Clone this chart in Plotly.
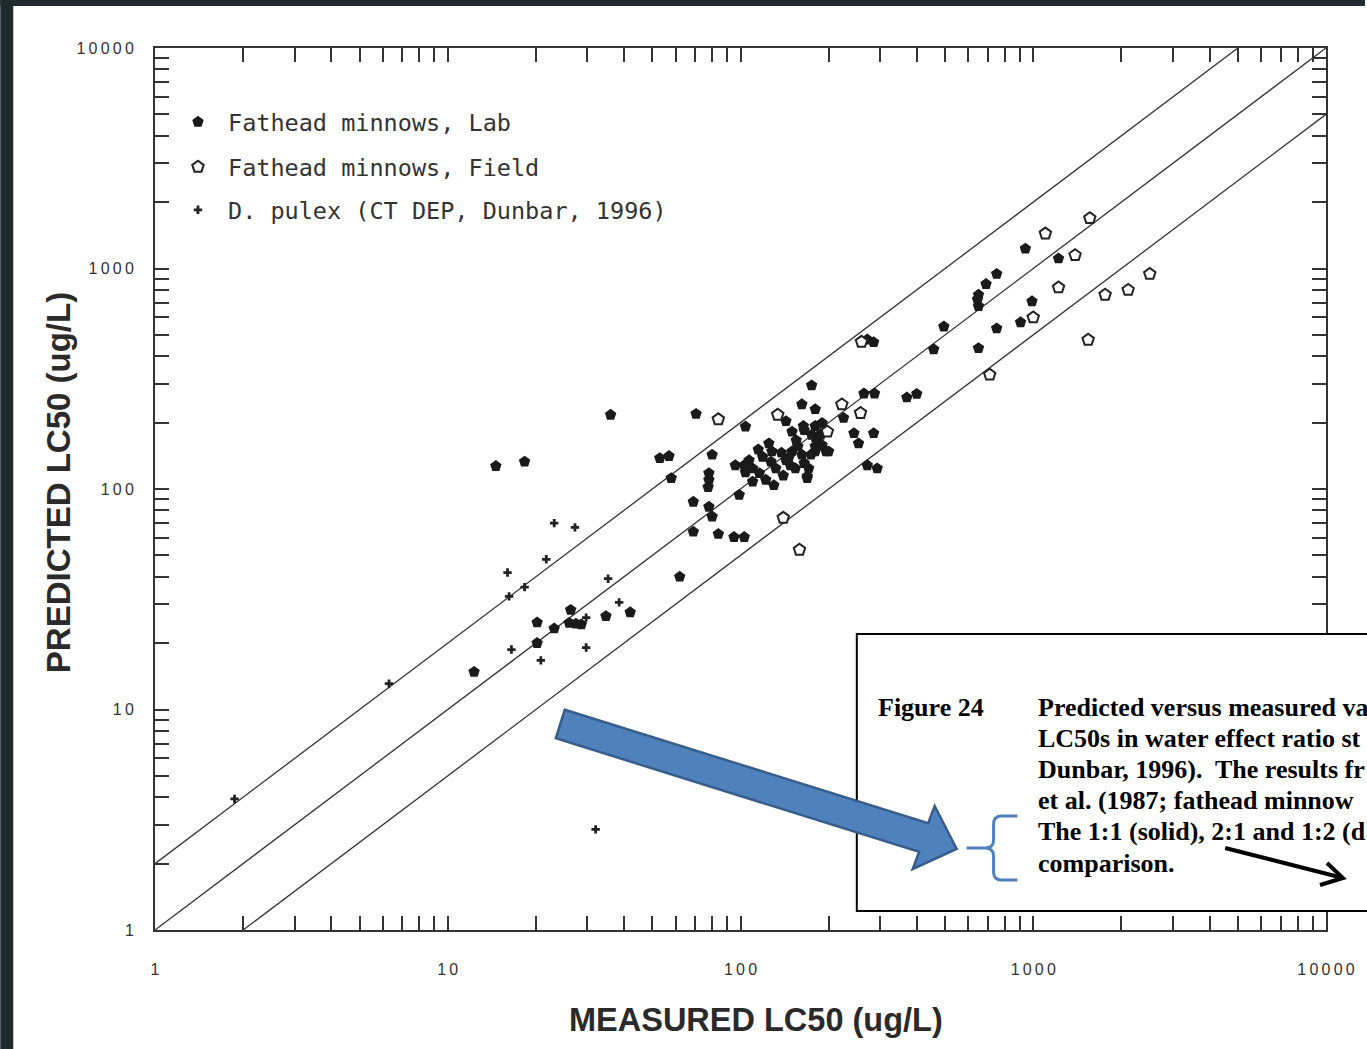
import plotly.graph_objects as go

# ---------------- data ----------------
lab_x = [14.6, 18.3, 36, 70.5, 104, 143, 150, 175, 162, 180, 264, 287, 165, 180, 190, 188, 182, 196, 180,
         225, 244, 253, 285, 271, 293, 53, 57, 58, 80, 78, 78, 77.5, 69, 78, 80, 69, 84, 95, 103, 99, 110,
         130, 169, 62, 26.3, 26, 27.4, 28.6, 34.7, 42, 23.1, 20.2, 20.2, 12.3, 940, 1220, 750, 690, 650,
         645, 650, 990, 905, 750, 650, 495, 457, 271, 285, 370, 400,
         96, 103, 110, 116, 115, 119, 125, 128, 127, 132, 138, 143, 148, 154, 150, 157, 155, 162, 165, 171,
         169, 122, 164, 175, 190, 200, 180, 107, 140, 146, 174, 104]
lab_y = [127, 133, 217, 219, 192, 203, 182, 295, 242, 230, 271, 271, 185, 193, 199, 176, 164, 148, 148,
         210, 179, 161, 179, 128, 124, 138, 141, 112, 143, 118, 110, 102, 87.5, 83, 75, 64, 62.5, 60.5,
         60.5, 94, 108, 104, 112, 40, 28.3, 24.7, 24.5, 24.3, 26.5, 27.6, 23.3, 24.8, 20, 14.8, 1230,
         1110, 945, 850, 760, 725, 675, 710, 570, 535, 435, 545, 430, 476, 463, 260, 270,
         128, 128, 124, 118, 151, 140, 161, 148, 133, 124, 146, 135, 128, 124, 148, 156, 166, 143, 131,
         124, 114, 110, 193, 176, 158, 148, 156, 135, 115, 138, 143, 119]

field_x = [84, 134, 222, 257, 198, 140, 159, 1560, 1100, 1390, 1220, 1000, 710, 1540, 1760, 2110, 2500, 259]
field_y = [207, 217, 242, 221, 182, 74, 53, 1690, 1440, 1150, 820, 600, 330, 475, 760, 800, 945, 465]

pulex_x = [1.87, 6.3, 32, 23.1, 27.2, 21.7, 16, 18.3, 16.2, 35.3, 38.5, 29.7, 16.5, 29.7, 20.8]
pulex_y = [3.93, 13.1, 2.86, 70, 67, 48, 41.8, 35.9, 32.6, 39.2, 30.6, 26.1, 18.7, 19.1, 16.7]

# comparison lines (1:1, 2:1, 1:2)
one_x, one_y = [1, 10000], [1, 10000]
two_x, two_y = [1, 5000], [2, 10000]
half_x, half_y = [2, 10000], [1, 5000]

decades = [1, 10, 100, 1000, 10000]
decade_labels = ["1", "10", "100", "1000", "10000"]

# caption text as visible in the picture (it is cut by the right edge)
caption_head = "Figure 24"
caption_lines = [
    "Predicted versus measured va",
    "LC50s in water effect ratio st",
    "Dunbar, 1996).  The results fr",
    "et al. (1987; fathead minnow",
    "The 1:1 (solid), 2:1 and 1:2 (d",
    "comparison.",
]

# ---------------- ticks ----------------
TS = "\u2009"
tick_vals, tick_text = [], []
for i, d in enumerate(decades[:-1]):
    for k in range(1, 10):
        tick_vals.append(k * d)
        tick_text.append(TS.join(decade_labels[i]) if k == 1 else "")
tick_vals.append(decades[-1])
tick_text.append(TS.join(decade_labels[-1]))

# ---------------- figure ----------------
W, H = 1367, 1049
L, R, T, B = 155, 39, 48, 119
PW, PH = W - L - R, H - T - B


def px(xp):
    return (xp - L) / PW


def py(yp):
    return (H - B - yp) / PH


def P(a, b):
    return f"{px(a):.5f},{py(b):.5f}"


fig = go.Figure()
line_style = dict(color="#333333", width=1.3)
for lx, ly in [(one_x, one_y), (two_x, two_y), (half_x, half_y)]:
    fig.add_trace(go.Scatter(x=lx, y=ly, mode="lines", line=line_style,
                             showlegend=False, hoverinfo="skip"))

fig.add_trace(go.Scatter(x=lab_x, y=lab_y, mode="markers", name="Fathead minnows, Lab",
                         marker=dict(symbol="pentagon", size=12, color="#1a1a1a"),
                         legend="legend"))
fig.add_trace(go.Scatter(x=field_x, y=field_y, mode="markers", name="Fathead minnows, Field",
                         marker=dict(symbol="pentagon", size=12, color="white",
                                     line=dict(color="#222222", width=2)),
                         legend="legend2"))
fig.add_trace(go.Scatter(x=pulex_x, y=pulex_y, mode="markers",
                         name="D. pulex (CT DEP, Dunbar, 1996)",
                         marker=dict(symbol="cross", size=7, color="#222222"),
                         legend="legend3"))

axis_common = dict(type="log", range=[0, 4], showgrid=False, zeroline=False, showline=True,
                   linecolor="#333333", linewidth=2, mirror="ticks", ticks="inside",
                   ticklen=14, tickwidth=1.5, tickcolor="#333333",
                   tickmode="array", tickvals=tick_vals, ticktext=tick_text,
                   tickfont=dict(family="Liberation Sans", size=16, color="#333333"))

leg_common = dict(x=px(168), xanchor="left", yanchor="middle", bgcolor="rgba(0,0,0,0)",
                  borderwidth=0, itemwidth=50,
                  font=dict(family="DejaVu Sans Mono", size=23.5, color="#333333"))

shapes = [
    # dark background strips of the photographed slide
    dict(type="rect", xref="paper", yref="paper", x0=px(0), x1=px(13), y0=py(H), y1=py(0),
         fillcolor="#1f2b2e", line=dict(width=0), layer="below"),
    dict(type="rect", xref="paper", yref="paper", x0=px(0), x1=px(W), y0=py(6), y1=py(0),
         fillcolor="#1f2b2e", line=dict(width=0), layer="below"),
    # caption box
    dict(type="rect", xref="paper", yref="paper", x0=px(858), x1=px(1420), y0=py(911), y1=py(634),
         fillcolor="white", line=dict(color="black", width=2), layer="above"),
]

arrow_pts = [(565.5, 709.7), (929.5, 823.2), (936, 806), (958, 849), (914, 869), (920.5, 851.8),
             (556.5, 738.3)]
arrow_path = "M " + " L ".join(P(a, b) for a, b in arrow_pts) + " Z"
shapes.append(dict(type="path", xref="paper", yref="paper", path=arrow_path,
                   fillcolor="#4F81BD", line=dict(color="#385D8A", width=2.5), layer="above"))

brace_path = (f"M {P(1019,816)} L {P(1003,816)} Q {P(995,816)} {P(995,824)} L {P(995,840)} "
              f"Q {P(995,848)} {P(987,848)} L {P(968,848)} M {P(987,848)} Q {P(995,848)} {P(995,856)} "
              f"L {P(995,872)} Q {P(995,880)} {P(1003,880)} L {P(1019,880)}")
shapes.append(dict(type="path", xref="paper", yref="paper", path=brace_path,
                   line=dict(color="#4F81BD", width=3), layer="above"))

shapes.append(dict(type="path", xref="paper", yref="paper",
                   path=f"M {P(1227,848)} L {P(1343,877.5)}",
                   line=dict(color="black", width=4), layer="above"))
shapes.append(dict(type="path", xref="paper", yref="paper",
                   path=f"M {P(1329,863)} L {P(1345,878)} L {P(1322,885)}",
                   line=dict(color="black", width=4), layer="above"))

annotations = [
    dict(text="<b>MEASURED LC50 (ug/L)</b>", xref="paper", yref="paper", x=px(757), y=py(1020),
         xanchor="center", yanchor="middle", showarrow=False,
         font=dict(family="Liberation Sans", size=32.5, color="#2a2a2a")),
    dict(text="<b>PREDICTED LC50 (ug/L)</b>", xref="paper", yref="paper", x=px(58), y=py(483),
         xanchor="center", yanchor="middle", showarrow=False, textangle=-90,
         font=dict(family="Liberation Sans", size=33, color="#2a2a2a")),
    dict(text=f"<b>{caption_head}</b>", xref="paper", yref="paper", x=px(877), y=py(707),
         xanchor="left", yanchor="middle", showarrow=False,
         font=dict(family="Liberation Serif", size=26, color="black")),
]
line_y = [707, 738, 769, 800, 831, 863]
for txt, yy in zip(caption_lines, line_y):
    annotations.append(dict(text=f"<b>{txt}</b>", xref="paper", yref="paper", x=px(1038), y=py(yy),
                            xanchor="left", yanchor="middle", showarrow=False,
                            font=dict(family="Liberation Serif", size=26, color="black")))

fig.update_layout(
    width=W, height=H,
    margin=dict(l=L, r=R, t=T, b=B),
    paper_bgcolor="white", plot_bgcolor="white",
    xaxis=dict(ticklabelstandoff=24, **axis_common),
    yaxis=dict(ticklabelstandoff=16, **axis_common),
    legend=dict(y=py(122), **leg_common),
    legend2=dict(y=py(167), **leg_common),
    legend3=dict(y=py(210), **leg_common),
    shapes=shapes,
    annotations=annotations,
    hovermode=False,
)

fig.write_html("out.html")
